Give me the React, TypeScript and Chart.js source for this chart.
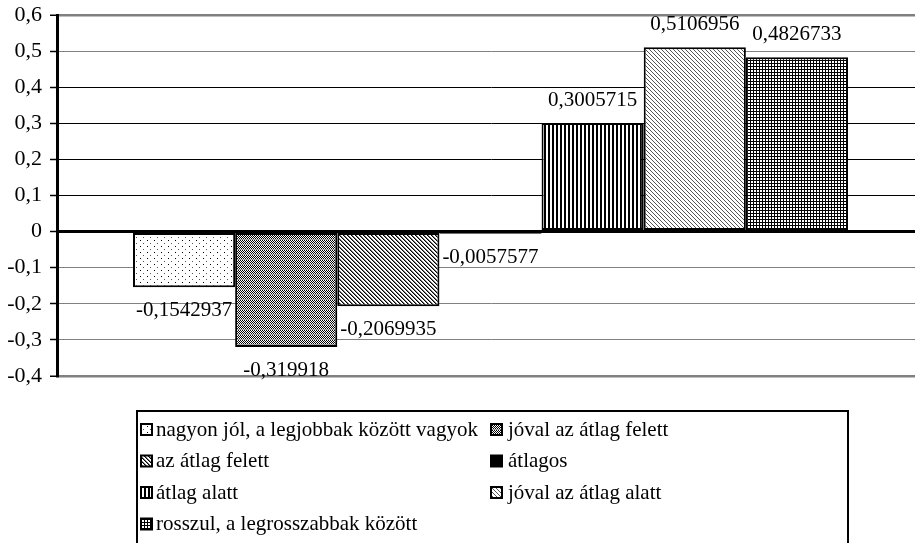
import React, { useEffect, useRef } from "react";
import { Chart, registerables } from "chart.js";

Chart.register(...registerables);

const categories = [""];
const seriesNames = [
  "nagyon jól, a legjobbak között vagyok",
  "jóval az átlag felett",
  "az átlag felett",
  "átlagos",
  "átlag alatt",
  "jóval az átlag alatt",
  "rosszul, a legrosszabbak között",
];
const seriesValues = [-0.1542937, -0.319918, -0.2069935, -0.0057577, 0.3005715, 0.5106956, 0.4826733];
const valueLabels = ["-0,1542937", "-0,319918", "-0,2069935", "-0,0057577", "0,3005715", "0,5106956", "0,4826733"];
const yTickLabels = ["-0,4", "-0,3", "-0,2", "-0,1", "0", "0,1", "0,2", "0,3", "0,4", "0,5", "0,6"];

const FONT = '"Liberation Serif", "Times New Roman", serif';

function makePattern(w: number, h: number, draw: (c: CanvasRenderingContext2D) => void) {
  const c = document.createElement("canvas");
  c.width = w;
  c.height = h;
  const x = c.getContext("2d")!;
  x.fillStyle = "#fff";
  x.fillRect(0, 0, w, h);
  draw(x);
  const ctx = document.createElement("canvas").getContext("2d")!;
  return ctx.createPattern(c, "repeat") as CanvasPattern;
}

function buildPatterns() {
  const px = (c: CanvasRenderingContext2D, x: number, y: number, col: string) => {
    c.fillStyle = col;
    c.fillRect(x, y, 1, 1);
  };
  return [
    makePattern(7, 6, (c) => {
      px(c, 0, 0, "#000");
      px(c, 3, 3, "#555");
    }),
    makePattern(2, 5, (c) => {
      for (let y = 0; y < 4; y++) px(c, y % 2, y, "#000");
      px(c, 0, 4, "#888");
      px(c, 1, 4, "#bbb");
    }),
    makePattern(4, 4, (c) => {
      for (let i = 0; i < 4; i++) {
        px(c, i, i, "#000");
        px(c, (i + 1) % 4, i, "#777");
      }
    }),
    "#000",
    makePattern(4, 1, (c) => {
      c.fillStyle = "#000";
      c.fillRect(0, 0, 2, 1);
    }),
    makePattern(4, 4, (c) => {
      for (let i = 0; i < 4; i++) px(c, i, i, "#555");
    }),
    makePattern(3, 3, (c) => {
      c.fillStyle = "#000";
      c.fillRect(0, 0, 3, 1);
      c.fillRect(0, 0, 1, 3);
    }),
  ];
}

export default function App() {
  const ref = useRef<HTMLCanvasElement | null>(null);

  useEffect(() => {
    if (!ref.current) return;
    const fills = buildPatterns();

    const labelPlugin = {
      id: "valueLabels",
      afterDatasetsDraw(chart: any) {
        const ctx = chart.ctx;
        ctx.save();
        ctx.font = `21px ${FONT}`;
        ctx.fillStyle = "#000";
        ctx.textAlign = "center";
        ctx.textBaseline = "alphabetic";
        chart.data.datasets.forEach((ds: any, i: number) => {
          const el = chart.getDatasetMeta(i).data[0];
          if (!el) return;
          const v = ds.data[0];
          const y = v >= 0 ? el.y - 17 : el.y + 29;
          ctx.fillText(valueLabels[i], el.x, y);
        });
        ctx.restore();
      },
    };

    const legendPlugin = {
      id: "boxLegend",
      afterDraw(chart: any) {
        const ctx = chart.ctx;
        ctx.save();
        ctx.strokeStyle = "#000";
        ctx.lineWidth = 2;
        ctx.strokeRect(137, 411, 711, 200);
        ctx.font = `21px ${FONT}`;
        ctx.textBaseline = "middle";
        ctx.textAlign = "left";
        chart.data.datasets.forEach((ds: any, i: number) => {
          const col = i % 2;
          const row = Math.floor(i / 2);
          const ix = col ? 491 : 141;
          const tx = col ? 508 : 156;
          const cy = 429 + row * 31.5;
          ctx.fillStyle = ds.backgroundColor;
          ctx.fillRect(ix, cy - 5, 11, 11);
          ctx.lineWidth = 2;
          ctx.strokeStyle = "#000";
          ctx.strokeRect(ix, cy - 5, 11, 11);
          ctx.fillStyle = "#000";
          ctx.fillText(ds.label, tx, cy + 1);
        });
        ctx.restore();
      },
    };

    const chart = new Chart(ref.current, {
      type: "bar",
      data: {
        labels: categories,
        datasets: seriesNames.map((name, i) => ({
          label: name,
          data: [seriesValues[i]],
          backgroundColor: fills[i] as any,
          borderColor: "#000",
          borderWidth: 2,
          borderSkipped: false,
          categoryPercentage: 0.8247,
          barPercentage: 1,
        })),
      },
      options: {
        animation: false,
        responsive: false,
        events: [],
        layout: { padding: { top: 15, bottom: 167, left: 0, right: 1 } },
        plugins: {
          legend: { display: false },
          tooltip: { enabled: false },
        },
        scales: {
          x: { display: false },
          y: {
            min: -0.4,
            max: 0.6,
            afterFit(scale: any) {
              scale.width = 57;
              scale.paddingTop = 0;
              scale.paddingBottom = 0;
            },
            ticks: {
              stepSize: 0.1,
              color: "#000",
              padding: 8,
              font: { family: FONT, size: 22 },
              callback: (_v: any, i: number) => yTickLabels[i],
            },
            grid: {
              drawTicks: true,
              tickLength: 7,
              tickColor: "#000",
              tickWidth: 1.5,
              color: (c: any) => {
                const v = c.tick ? Math.round(c.tick.value * 10) : 1;
                if (v === 0) return "#000";
                if (v >= 1 && v <= 4) return "#000";
                return "#808080";
              },
              lineWidth: (c: any) => {
                const v = c.tick ? Math.round(c.tick.value * 10) : 1;
                if (v === 0) return 3;
                if (v === 6 || v === -4) return 2.5;
                return 1;
              },
            },
            border: { display: true, color: "#000", width: 3 },
          },
        },
      },
      plugins: [labelPlugin, legendPlugin],
    });
    return () => chart.destroy();
  }, []);

  return (
    <div style={{ position: "absolute", left: 0, top: 0, width: 915, height: 543, overflow: "hidden", background: "#fff" }}>
      <canvas ref={ref} width={925} height={543} />
    </div>
  );
}
